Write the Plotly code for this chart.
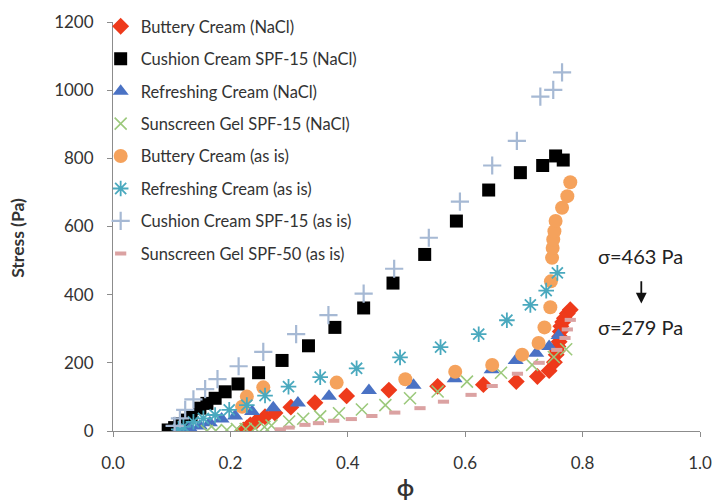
import plotly.graph_objects as go

# ---- data (phi, stress in Pa) ----
names = ["Buttery Cream (NaCl)", "Cushion Cream SPF-15 (NaCl)", "Refreshing Cream (NaCl)",
         "Sunscreen Gel SPF-15 (NaCl)", "Buttery Cream (as is)", "Refreshing Cream (as is)",
         "Cushion Cream SPF-15 (as is)", "Sunscreen Gel SPF-50 (as is)"]

buttery_nacl_phi = [0.222, 0.228, 0.234, 0.245, 0.259, 0.276, 0.303, 0.344, 0.398, 0.470, 0.553, 0.631,
                    0.687, 0.723, 0.743, 0.752, 0.755, 0.757, 0.758, 0.760, 0.761, 0.762, 0.763, 0.766,
                    0.769, 0.774, 0.779]
buttery_nacl_s = [3, 9, 18, 30, 42, 53, 70, 83, 103, 120, 131, 136,
                  145, 160, 177, 202, 224, 235, 248, 262, 277, 292, 307, 320,
                  331, 345, 356]

cushion_nacl_phi = [0.094, 0.105, 0.114, 0.124, 0.133, 0.148, 0.160, 0.174, 0.191, 0.213, 0.248, 0.288,
                    0.333, 0.378, 0.427, 0.477, 0.531, 0.585, 0.640, 0.694, 0.732, 0.754, 0.767]
cushion_nacl_s = [3, 10, 22, 32, 45, 67, 81, 96, 115, 138, 171, 207,
                  250, 304, 361, 434, 518, 616, 707, 758, 779, 807, 795]

refresh_nacl_phi = [0.110, 0.120, 0.131, 0.148, 0.165, 0.185, 0.208, 0.237, 0.273, 0.315, 0.368, 0.436,
                    0.512, 0.582, 0.645, 0.686, 0.721, 0.743, 0.759]
refresh_nacl_s = [0, 3, 8, 15, 24, 35, 44, 57, 68, 82, 102, 119,
                  134, 153, 180, 207, 228, 248, 280]

sun15_nacl_phi = [0.160, 0.175, 0.194, 0.211, 0.226, 0.242, 0.258, 0.270, 0.300, 0.324, 0.353, 0.385,
                  0.424, 0.464, 0.506, 0.553, 0.603, 0.661, 0.714, 0.751, 0.772]
sun15_nacl_s = [0, 1, 3, 6, 6, 8, 12, 16, 28, 36, 43, 52,
                63, 76, 96, 116, 145, 171, 194, 217, 240]

buttery_asis_phi = [0.220, 0.228, 0.256, 0.381, 0.498, 0.583, 0.646, 0.697, 0.725, 0.735, 0.745, 0.746,
                    0.748, 0.749, 0.750, 0.752, 0.754, 0.765, 0.774, 0.779]
buttery_asis_s = [71, 101, 128, 142, 152, 174, 194, 224, 258, 304, 363, 439,
                  508, 537, 562, 586, 616, 655, 689, 730]

refresh_asis_phi = [0.112, 0.120, 0.137, 0.154, 0.174, 0.198, 0.228, 0.259, 0.299, 0.353, 0.415, 0.489,
                    0.558, 0.623, 0.671, 0.711, 0.738, 0.757]
refresh_asis_s = [5, 13, 27, 37, 47, 62, 76, 104, 130, 158, 184, 216,
                  246, 284, 325, 370, 412, 464]

cushion_asis_phi = [0.105, 0.114, 0.123, 0.137, 0.157, 0.178, 0.214, 0.256, 0.312, 0.367, 0.427, 0.479,
                    0.538, 0.591, 0.646, 0.688, 0.728, 0.750, 0.765]
cushion_asis_s = [15, 37, 62, 93, 123, 152, 190, 232, 284, 340, 403, 476,
                  567, 673, 779, 851, 981, 1001, 1052]

sun50_asis_phi = [0.285, 0.300, 0.327, 0.350, 0.376, 0.406, 0.441, 0.480, 0.523, 0.563, 0.610, 0.646,
                  0.689, 0.726, 0.756, 0.770, 0.774, 0.779]
sun50_asis_s = [5, 10, 18, 23, 30, 35, 44, 54, 67, 86, 106, 132,
                168, 200, 238, 273, 298, 326]

x_ticks = [0.0, 0.2, 0.4, 0.6, 0.8, 1.0]
y_ticks = [0, 200, 400, 600, 800, 1000, 1200]

series = [
    (buttery_nacl_phi, buttery_nacl_s, dict(symbol="diamond", size=13, color="#ee3a1b")),
    (cushion_nacl_phi, cushion_nacl_s, dict(symbol="square", size=13, color="#000000")),
    (refresh_nacl_phi, refresh_nacl_s, dict(symbol="triangle-up", size=14, color="#4a72c4")),
    (sun15_nacl_phi, sun15_nacl_s, dict(symbol="x-thin-open", size=12, color="#9cc97c",
                                        line=dict(width=1.6, color="#9cc97c"))),
    (buttery_asis_phi, buttery_asis_s, dict(symbol="circle", size=14, color="#f5a25c")),
    (refresh_asis_phi, refresh_asis_s, dict(symbol="asterisk-open", size=13, color="#4aa9be",
                                            line=dict(width=1.8, color="#4aa9be"))),
    (cushion_asis_phi, cushion_asis_s, dict(symbol="cross-thin-open", size=13, color="#a6b9d4",
                                            line=dict(width=2.2, color="#a6b9d4"))),
    (sun50_asis_phi, sun50_asis_s, dict(symbol="line-ew-open", size=8, color="#dba2a2",
                                        line=dict(width=4, color="#dba2a2"))),
]

fig = go.Figure()
for i, (xs, ys, mk) in enumerate(series):
    fig.add_trace(go.Scatter(x=xs, y=ys, mode="markers", name=names[i], marker=mk,
                             legendgroup=f"g{i}"))

font_family = "Lato, Open Sans, sans-serif"
axis_common = dict(showline=True, linecolor="#8c8c8c", linewidth=1, ticks="outside",
                   tickcolor="#8c8c8c", ticklen=5, showgrid=False, zeroline=False,
                   tickfont=dict(family=font_family, size=17, color="#333333"))

fig.update_layout(
    width=717, height=501,
    margin=dict(l=113, r=17, t=22, b=70, autoexpand=False),
    paper_bgcolor="white", plot_bgcolor="white",
    xaxis=dict(range=[0, 1], tickvals=x_ticks, tickformat=".1f", ticklabelstandoff=12,
               **axis_common),
    yaxis=dict(range=[0, 1200], tickvals=y_ticks, ticklabelstandoff=10,
               **axis_common),
    legend=dict(x=0.1404, y=0.982, xref="container", yref="container",
                xanchor="left", yanchor="top", bgcolor="rgba(0,0,0,0)",
                font=dict(family=font_family, size=16.5, color="#333333"),
                tracegroupgap=8, traceorder="grouped", itemsizing="trace", maxheight=480),
    showlegend=True,
    annotations=[
        dict(x=-0.162, y=0.472, xref="paper", yref="paper", text="<b>Stress (Pa)</b>",
             textangle=-90, showarrow=False, xanchor="center", yanchor="middle",
             font=dict(family=font_family, size=17.5, color="#333333")),
        dict(x=0.499, y=-0.139, xref="paper", yref="paper", text="<b>ϕ</b>", showarrow=False,
             xanchor="center", yanchor="middle",
             font=dict(family=font_family, size=22, color="#333333")),
        dict(x=0.899, y=512, xref="x", yref="y", text="σ=463 Pa", showarrow=False,
             font=dict(family=font_family, size=20, color="#222222")),
        dict(x=0.899, y=306, xref="x", yref="y", text="σ=279 Pa", showarrow=False,
             font=dict(family=font_family, size=20, color="#222222")),
        dict(x=0.900, y=374, xref="x", yref="y", ax=0.900, ay=444, axref="x", ayref="y",
             text="", showarrow=True, arrowhead=2, arrowsize=1.2, arrowwidth=1.8, arrowcolor="#111111"),
    ],
)

fig.write_html("out.html")
